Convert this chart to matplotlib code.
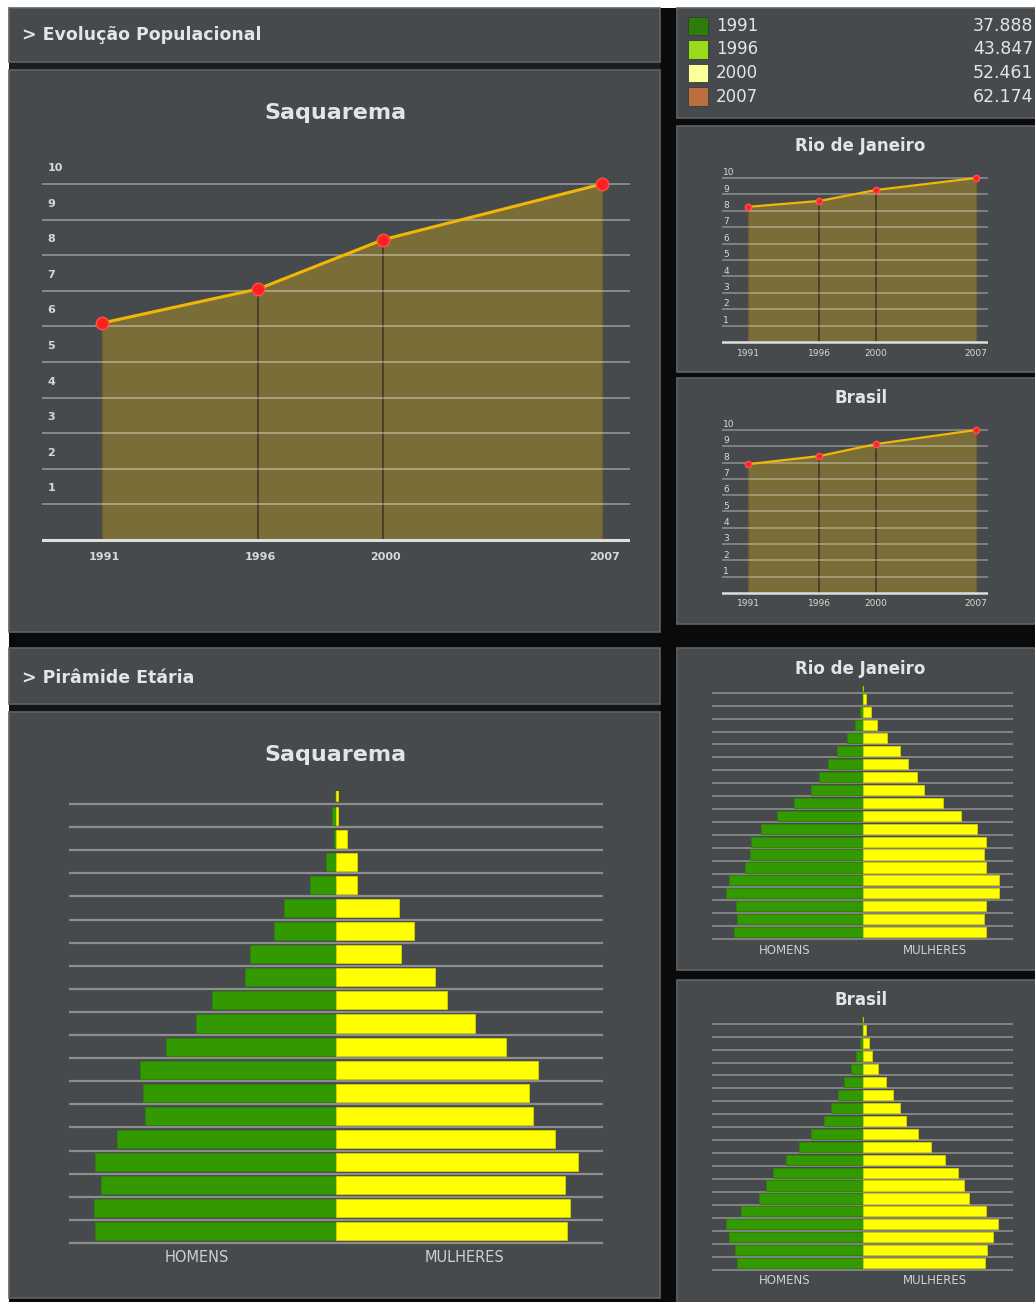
import numpy as np
import matplotlib
matplotlib.use('Agg')
import matplotlib.pyplot as plt
import matplotlib.transforms as mtransforms
from matplotlib.patches import Rectangle

# Painel de indicadores: evolução populacional e pirâmide etária
W, H = 1035, 1302

anos = [1991, 1996, 2000, 2007]
pop_saquarema = [37888, 43847, 52461, 62174]
cores_anos = ['#2e7d0a', '#99dd1a', '#ffff99', '#bb6e40']

# índice 0-10 (2007 = 10)
indice_rio = [8.24, 8.60, 9.27, 10.0]
indice_brasil = [7.90, 8.40, 9.14, 10.0]

# pirâmides: faixas da mais jovem (base) para a mais idosa (topo), % da meia largura
homens_saq = [90.2, 90.8, 87.9, 90.1, 82.0, 71.4, 72.4, 73.3, 63.6, 52.3,
              46.6, 33.9, 32.2, 23.1, 19.4, 9.8, 3.6, 0.6, 1.4, 0.2]
mulheres_saq = [86.4, 87.7, 85.8, 90.5, 82.2, 73.8, 72.2, 75.8, 63.6, 52.1,
                41.5, 37.0, 24.2, 29.2, 23.5, 7.7, 7.7, 4.0, 0.9, 0.8]
homens_rio = [85.5, 83.7, 83.9, 90.4, 88.4, 78.1, 74.8, 73.9, 67.4, 56.7,
              45.8, 34.4, 28.6, 22.8, 16.7, 10.0, 4.7, 1.8, 0.5, 0.3]
mulheres_rio = [82.3, 81.0, 82.3, 90.7, 90.7, 82.3, 81.0, 82.3, 76.1, 65.3,
                53.5, 40.7, 36.3, 30.5, 24.8, 16.6, 9.7, 5.5, 2.4, 0.3]
homens_br = [83.7, 85.0, 88.6, 90.8, 80.8, 68.5, 64.1, 59.8, 51.1, 42.2,
             34.4, 25.7, 21.2, 16.1, 12.1, 7.4, 4.5, 1.8, 0.5, 0.3]
mulheres_br = [81.2, 82.5, 86.7, 89.8, 81.9, 70.6, 67.5, 63.3, 54.9, 45.6,
               36.7, 29.0, 25.0, 20.1, 15.9, 10.2, 6.6, 4.0, 2.0, 0.3]

PANEL = '#474a4d'
BORDA = '#606366'
TEXTO = '#e4e4e4'
OLIVA = '#7b6d37'
VERDE = '#339900'
AMARELO = '#ffff00'

fig = plt.figure(figsize=(W / 100, H / 100), dpi=100, facecolor='#0a0a0a')


def ftext(x, y, s, **kw):
    kw.setdefault('color', TEXTO)
    return fig.text(x / W, 1 - y / H, s, **kw)


def caixa(x, y, w, h, fc=PANEL, ec=BORDA, lw=1.2, z=-5):
    fig.add_artist(Rectangle((x / W, 1 - (y + h) / H), w / W, h / H,
                             transform=fig.transFigure, facecolor=fc,
                             edgecolor=ec, linewidth=lw, zorder=z))


def eixos(x0, y0, x1, y1):
    ax = fig.add_axes([x0 / W, 1 - y1 / H, (x1 - x0) / W, (y1 - y0) / H])
    ax.set_facecolor('none')
    ax.axis('off')
    return ax


# fundo: margens brancas e faixas escuras
caixa(0, 0, W, 8, fc='white', ec='none', lw=0)
caixa(0, 0, 9, H, fc='white', ec='none', lw=0)
caixa(9, 62, 651, 8, fc='#1c1c1c', ec='none', lw=0)
caixa(9, 704, 651, 8, fc='#141414', ec='none', lw=0)

# painéis
caixa(9, 8, 651, 54)
caixa(9, 70, 651, 562)
caixa(677, 8, 370, 110)
caixa(677, 126, 370, 246)
caixa(677, 378, 370, 246)
caixa(9, 648, 651, 56)
caixa(9, 712, 651, 586)
caixa(677, 648, 370, 322)
caixa(677, 980, 370, 330)

ftext(22, 35, '> Evolução Populacional', fontsize=12.5, fontweight='bold', va='center')
ftext(22, 678, '> Pirâmide Etária', fontsize=12.5, fontweight='bold', va='center')

# legenda dos anos
for i, (ano, pop, cor) in enumerate(zip(anos, pop_saquarema, cores_anos)):
    yc = 26 + i * 23.5
    caixa(688, yc - 9, 20, 18, fc=cor, ec='#3a3a3a', lw=0.6, z=1)
    ftext(716, yc, str(ano), fontsize=12, va='center')
    ftext(973, yc, f'{pop:,}'.replace(',', '.'), fontsize=12.5, va='center')


def evolucao(valores, titulo, tx, ty, x_esq, x_dir, px_ini, px_fim, y_topo, y_base,
             fs_tick, fs_titulo, ms, lw, pequeno):
    ppu_x = (px_fim - px_ini) / (anos[-1] - anos[0])
    ppu_y = (y_base - y_topo) / 10
    ax = eixos(x_esq, y_topo - 0.75 * ppu_y, x_dir, y_base + 3)
    ax.set_xlim(anos[0] - (px_ini - x_esq) / ppu_x, anos[-1] + (x_dir - px_fim) / ppu_x)
    ax.set_ylim(-3 / ppu_y, 10.75)

    ax.fill_between(anos, valores, 0, color=OLIVA, linewidth=0, zorder=1)
    for a, v in zip(anos[1:-1], valores[1:-1]):
        ax.plot([a, a], [0, v], color='#3b3421', lw=1.1, zorder=2)
    ax.plot([anos[0]] * 2, [0, valores[0]], color='#6a5e30', lw=1, zorder=2)
    ax.plot([anos[-1]] * 2, [0, valores[-1]], color='#6a5e30', lw=1, zorder=2)

    trans = mtransforms.blended_transform_factory(ax.transAxes, ax.transData)
    for k in range(1, 11):
        ax.axhline(k, color='white', alpha=0.38, lw=1.3 if not pequeno else 1.1, zorder=3)
        if pequeno:
            ax.text(0.005, k + 0.05, str(k), transform=trans, fontsize=fs_tick,
                    color='#d8d8d8', va='bottom', ha='left')
        else:
            ax.text(0.009, k + 0.45, str(k), transform=trans, fontsize=fs_tick,
                    color='#d8d8d8', va='center', ha='left', fontweight='bold')
    ax.axhline(0, color='#dedede', lw=2.2 if not pequeno else 1.8, zorder=4)

    ax.plot(anos, valores, color='#f2b705', lw=lw, zorder=5)
    ax.plot(anos, valores, 'o', color='#ff2020', markeredgecolor='#ff5050',
            ms=ms, zorder=6)
    for a in anos:
        ax.annotate(str(a), (a, 0), xytext=(2 if not pequeno else 0, -17 if not pequeno else -11),
                    textcoords='offset pixels', ha='center', va='center',
                    fontsize=fs_tick, color='#d8d8d8',
                    fontweight='bold' if not pequeno else 'normal',
                    annotation_clip=False)
    ftext(tx, ty, titulo, fontsize=fs_titulo, fontweight='bold', ha='center', va='center')


indice_saq = [p / max(pop_saquarema) * 10 for p in pop_saquarema]

evolucao(indice_saq, 'Saquarema', 335, 113, 42, 630, 102, 602, 184, 540,
         8, 16, 9, 2.2, False)
evolucao(indice_rio, 'Rio de Janeiro', 860, 146, 722, 988, 748, 976, 178, 342,
         6.5, 12, 4.5, 1.6, True)
evolucao(indice_brasil, 'Brasil', 861, 398, 722, 988, 748, 976, 430, 593,
         6.5, 12, 4.5, 1.6, True)


def piramide(homens, mulheres, titulo, tx, ty, x_esq, x_dir, y_linha0, y_linha19,
             y_rot, fs_rot, fs_titulo, lw_grade):
    ppu = (y_linha0 - y_linha19) / 19
    ax = eixos(x_esq, y_linha0 - 19.55 * ppu, x_dir, y_linha0 + 0.12 * ppu)
    ax.set_xlim(-100, 100)
    ax.set_ylim(-0.12, 19.55)
    faixas = np.arange(len(homens))
    for k in faixas:
        ax.axhline(k, color='#8d8d8d', lw=lw_grade, zorder=0)
    ax.barh(faixas + 0.5, [-h for h in homens], height=0.78, color=VERDE,
            edgecolor='#2c8400', linewidth=0.6, zorder=2)
    ax.barh(faixas + 0.5, mulheres, height=0.78, color=AMARELO,
            edgecolor='#d2d200', linewidth=0.6, zorder=2)
    xc = (x_esq + x_dir) / 2
    meia = (x_dir - x_esq) / 2
    ftext(xc - meia / 2 - 0.02 * meia, y_rot, 'HOMENS', fontsize=fs_rot,
          color='#cfcfcf', ha='center', va='center')
    ftext(xc + meia / 2 - 0.02 * meia, y_rot, 'MULHERES', fontsize=fs_rot,
          color='#cfcfcf', ha='center', va='center')
    ftext(tx, ty, titulo, fontsize=fs_titulo, fontweight='bold', ha='center', va='center')


piramide(homens_saq, mulheres_saq, 'Saquarema', 335, 755, 69, 603, 1243, 804,
         1257, 10.5, 16, 1.6)
piramide(homens_rio, mulheres_rio, 'Rio de Janeiro', 860, 669, 712, 1013, 938.7, 692.7,
         950, 8.5, 12, 1.2)
piramide(homens_br, mulheres_br, 'Brasil', 861, 1000, 712, 1013, 1269.7, 1023.7,
         1281, 8.5, 12, 1.2)

fig.savefig('out.png', dpi=100, facecolor=fig.get_facecolor())
